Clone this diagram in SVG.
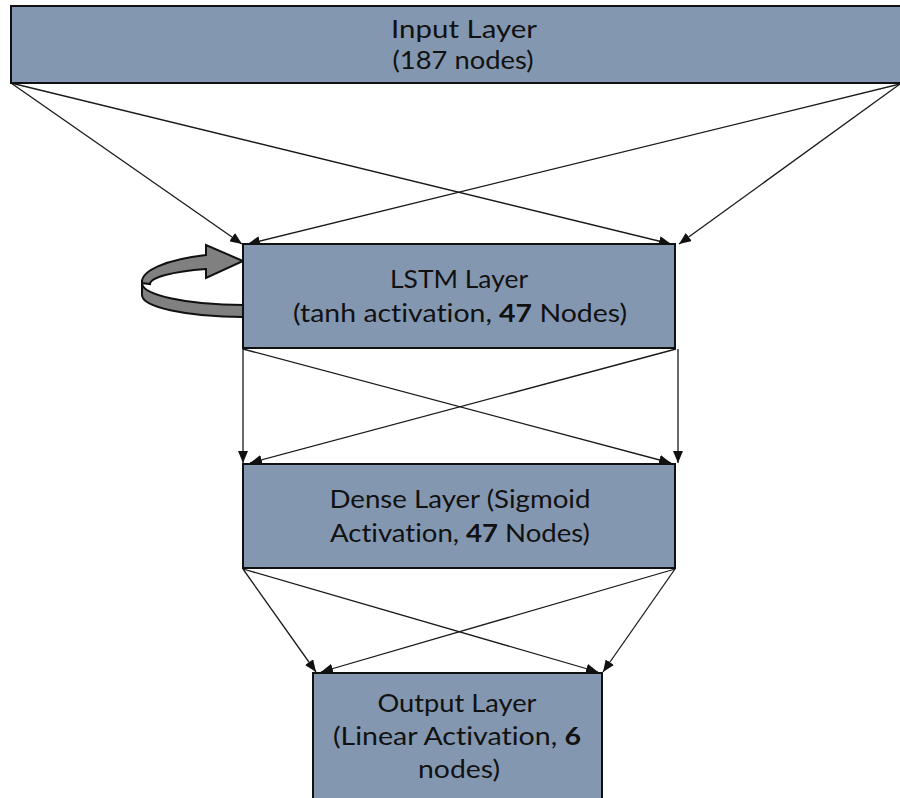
<svg xmlns="http://www.w3.org/2000/svg" width="900" height="798" viewBox="0 0 900 798">
  <style>
    .layer { fill: #8497B0; stroke: #111; stroke-width: 2; }
    .label { font-family: Lato, "Open Sans", "Liberation Sans", sans-serif; font-size: 24.5px; fill: #111; text-anchor: middle; font-variant-ligatures: none; font-feature-settings: "liga" 0, "dlig" 0; }
    .num { font-weight: bold; }
    .edge { stroke: #1a1a1a; stroke-width: 1.3; fill: none; marker-end: url(#head); }
    .loop { fill: #808080; stroke: #111; stroke-width: 2; stroke-linejoin: miter; }
  </style>
  <defs>
    <marker id="head" viewBox="0 0 12 10" refX="12" refY="5" markerWidth="12" markerHeight="10" markerUnits="userSpaceOnUse" orient="auto">
      <path d="M0,0 L12,5 L0,10 Z" fill="#111"/>
    </marker>
  </defs>

  <rect width="900" height="798" fill="#fff"/>

  <!-- fully connected links between consecutive layers -->
  <g id="connectors">
    <line class="edge" x1="11" y1="83" x2="242" y2="244"/>
    <line class="edge" x1="11" y1="83" x2="671" y2="244"/>
    <line class="edge" x1="900" y1="84" x2="248" y2="244"/>
    <line class="edge" x1="900" y1="84" x2="679" y2="244"/>

    <line class="edge" x1="243" y1="349" x2="243" y2="463"/>
    <line class="edge" x1="243" y1="349" x2="671" y2="463"/>
    <line class="edge" x1="676" y1="349" x2="250" y2="463"/>
    <line class="edge" x1="678" y1="349" x2="678" y2="463"/>

    <line class="edge" x1="243" y1="569" x2="316" y2="672"/>
    <line class="edge" x1="243" y1="569" x2="598" y2="672"/>
    <line class="edge" x1="675" y1="569" x2="321" y2="672"/>
    <line class="edge" x1="675" y1="569" x2="603" y2="672"/>
  </g>

  <g id="input-layer">
    <rect class="layer" x="11" y="6" width="906" height="77" stroke-width="1.5"/>
    <text class="label" x="464" y="38" textLength="146" lengthAdjust="spacingAndGlyphs">Input Layer</text>
    <text class="label" x="463" y="69" textLength="141" lengthAdjust="spacingAndGlyphs">(187 nodes)</text>
  </g>

  <g id="lstm-recurrence">
    <!-- lower band of the curved arrow (side face visible) -->
    <path class="loop" d="M142,283 A101,22 0 0 0 243,305 L243,317 A101,22 0 0 1 142,295 Z"/>
    <!-- upper band ending in the arrow head -->
    <path class="loop" d="M142,283 A101,29 0 0 1 206,255 L206,245 L243,261 L206,278 L206,269 A93,16.4 0 0 0 150,284 Z"/>
  </g>

  <g id="lstm-layer">
    <rect class="layer" x="243" y="244" width="432" height="104"/>
    <text class="label" x="459" y="288" textLength="138" lengthAdjust="spacingAndGlyphs">LSTM Layer</text>
    <text class="label" x="460" y="322" textLength="334" lengthAdjust="spacingAndGlyphs">(tanh activation, <tspan class="num">47</tspan> Nodes)</text>
  </g>

  <g id="dense-layer">
    <rect class="layer" x="243" y="464" width="432" height="104"/>
    <text class="label" x="460" y="508" textLength="261" lengthAdjust="spacingAndGlyphs">Dense Layer (Sigmoid</text>
    <text class="label" x="460" y="542" textLength="260" lengthAdjust="spacingAndGlyphs">Activation, <tspan class="num">47</tspan> Nodes)</text>
  </g>

  <g id="output-layer">
    <rect class="layer" x="313" y="673" width="289" height="140"/>
    <text class="label" x="457" y="712" textLength="159" lengthAdjust="spacingAndGlyphs">Output Layer</text>
    <text class="label" x="457" y="745" textLength="248" lengthAdjust="spacingAndGlyphs">(Linear Activation, <tspan class="num">6</tspan></text>
    <text class="label" x="459" y="778" textLength="82" lengthAdjust="spacingAndGlyphs">nodes)</text>
  </g>
</svg>
